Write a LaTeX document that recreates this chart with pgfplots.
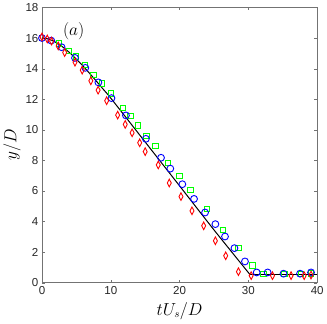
\documentclass[border=0pt]{standalone}
\usepackage{fontspec}
\setmainfont{Liberation Sans}
\usepackage{pgfplots}
\pgfplotsset{compat=1.18}
\begin{document}
\begin{tikzpicture}
\begin{axis}[
    width=274pt, height=274pt,
    scale only axis,
    xmin=0, xmax=40, ymin=0, ymax=18,
    xtick={0,10,...,40},
    ytick={0,2,...,18},
    tick align=inside,
    axis line style={black!55},
    tick style={black!55},
    major tick length=3pt,
    ticklabel style={font=\fontsize{11.5}{13}\selectfont, black!85},
    /pgf/number format/assume math mode=true,
    xlabel={$tU_s/D$},
    ylabel={$y/D$},
    label style={font=\fontsize{16}{18}\selectfont},
    xlabel style={yshift=-1pt},
    ylabel style={yshift=-2pt},
    clip=false,
]
% green squares
\addplot[only marks, mark=square, mark size=2.7pt, green, line width=0.8pt] coordinates {
(2.46,15.64) (3.9,15.16) (4.9,14.8) (6.2,14.26) (7.5,13.6) (8.7,13.03)
(10.0,12.37) (11.8,11.44) (12.85,10.9) (13.96,10.3) (15.2,9.59) (16.5,8.94)
(18.3,7.85) (19.95,7.0) (21.6,6.07) (24.0,4.81) (26.3,3.44) (28.55,2.26)
(30.6,1.13) (32.2,0.57) (35.2,0.57) (37.6,0.57) (39.1,0.6)
};
% blue circles
\addplot[only marks, mark=o, mark size=3.4pt, blue, line width=0.9pt] coordinates {
(0,16.0) (1.35,15.83) (2.85,15.4) (4.8,14.7) (6.3,14.05) (8.2,13.1)
(10.1,12.07) (12.2,10.94) (15.1,9.41) (17.3,8.17) (18.65,7.46) (20.4,6.44)
(22.1,5.48) (23.7,4.59) (25.2,3.83) (26.6,3.02) (27.97,2.26) (29.5,1.39)
(31.2,0.67) (32.8,0.67) (35.1,0.59) (37.5,0.59) (39.1,0.67)
};
% red diamonds
\addplot[only marks, mark=diamond, mark size=3.8pt, mark options={xscale=0.7}, red, line width=0.9pt] coordinates {
(0,16.07) (0.77,15.94) (1.4,15.8) (2.36,15.48) (3.3,15.05) (4.8,14.42)
(5.85,13.9) (7.1,13.2) (8.16,12.59) (9.4,11.9) (11.0,10.96) (12.1,10.35)
(13.1,9.8) (14.2,9.15) (15.0,8.57) (16.9,7.7) (18.5,6.52) (20.2,5.63)
(21.8,4.7) (23.5,3.72) (25.2,2.74) (26.7,1.76) (28.55,0.72) (30.4,0.46)
(33.5,0.46) (36.2,0.46) (38.1,0.46) (39.1,0.5)
};
% model line
\addplot[black, line width=1.0pt, smooth, tension=0.4] coordinates {
(0,16.0) (1,15.93) (2,15.72) (3,15.42) (4,15.05) (5,14.62) (6,14.15)
(7,13.65) (8,13.13) (9,12.6) (10,12.07) (15,9.2) (20,6.33) (25,3.45)
(30.25,0.52)
};
\addplot[black, line width=1.0pt] coordinates {(30.25,0.52) (40,0.52)};
\node[font=\fontsize{16}{18}\selectfont] at (axis cs:4.6,16.45) {$(a)$};
\end{axis}
\end{tikzpicture}
\end{document}
